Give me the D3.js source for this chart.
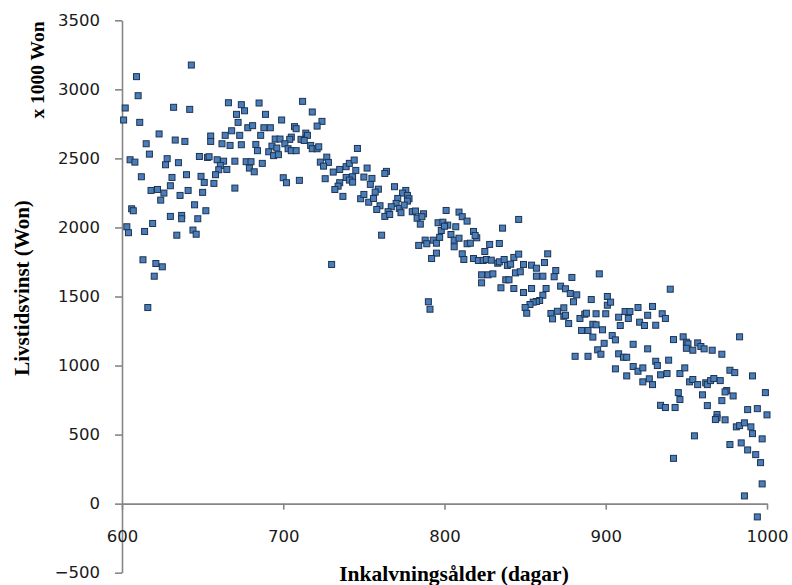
<!DOCTYPE html>
<html>
<head>
<meta charset="utf-8">
<script src="https://cdn.jsdelivr.net/npm/d3@7"></script>
<style>
body{
  margin:0;
  background:#fff;
}
.tick text{
  font-family: "DejaVu Sans", Verdana, sans-serif;
  font-size:16.5px;
  fill:#1a1a1a;
}
.axis path,
.axis line{
  stroke:#868686;
  stroke-width:1.6px;
}
.title{
  font-family: "Liberation Serif", "Times New Roman", serif;
  font-weight:bold;
  fill:#000;
}
.dot{
  fill:#4a7ebb;
  stroke:#1f3350;
  stroke-width:1px;
}
</style>
</head>
<body>
<div id="chart"></div>
<script>
// inkalvningsalder (dagar) and livstidsvinst (x 1000 won)
var ageDays = [
  643,609,610,602,601,632,642,611,623,615,633,639,617,605,608,628,627,635,648,653,654,
  612,631,640,649,651,657,630,618,622,626,624,636,641,650,645,606,607,630,637,637,647,
  652,619,603,604,614,634,644,646,613,621,625,620,616,666,674,671,672,668,664,673,655,
  655,662,667,674,659,663,661,660,658,665,670,670,
  712,685,676,689,718,699,724,721,678,681,688,692,707,708,686,714,715,705,704,695,698,
  711,713,701,683,684,693,696,691,694,697,703,705,708,717,718,721,722,746,677,680,679,
  682,687,700,702,710,723,727,728,725,726,731,735,739,741,744,745,743,739,741,743,735,
  734,732,737,748,750,730,750,
  752,764,763,755,754,769,759,757,776,774,777,778,777,771,770,767,765,772,773,775,753,
  756,760,758,763,766,780,782,783,787,785,786,761,801,809,811,814,796,799,802,798,800,
  807,804,806,809,806,788,789,784,793,795,797,795,792,818,820,819,814,816,825,811,812,
  818,821,824,826,823,823,790,791,
  846,836,828,834,829,833,834,837,839,841,843,846,864,862,849,854,857,827,830,844,847,
  838,840,857,861,869,868,879,896,835,843,849,854,863,861,859,857,855,853,850,851,872,
  875,878,882,880,891,874,870,866,867,874,875,877,884,887,888,894,900,901,901,903,892,
  894,898,899,885,889,892,895,897,881,889,
  912,915,914,920,929,926,931,935,937,908,909,921,924,904,906,917,926,942,948,950,951,
  950,954,957,959,961,966,972,983,908,911,913,939,931,932,906,917,920,923,913,934,938,
  923,927,929,946,949,952,954,957,962,963,965,967,971,977,980,991,999,945,946,960,975,
  974,979,972,934,937,943,963,969,969,968,974,988,994,1000,981,983,986,990,991,997,977,
  984,988,993,996,955,942,997,986,994,940
];
var lifetimeGain = [
  3176,3092,2954,2865,2778,2870,2855,2761,2677,2606,2633,2623,2531,2490,2473,2498,2454,2469,2514,2507,2512,
  2367,2362,2382,2370,2326,2319,2302,2268,2275,2249,2198,2232,2268,2254,2164,2135,2121,2080,2087,2063,2063,
  2121,2029,2005,1962,1971,1944,1981,1951,1766,1739,1715,1647,1420,2903,2889,2819,2761,2700,2667,2667,2662,
  2623,2606,2594,2599,2490,2480,2449,2418,2382,2420,2480,2285,
  2913,2901,2845,2819,2836,2778,2768,2734,2722,2737,2722,2722,2730,2715,2667,2683,2667,2654,2638,2640,2640,
  2638,2630,2606,2601,2556,2589,2575,2548,2520,2527,2570,2556,2556,2594,2570,2570,2584,2572,2476,2476,2430,
  2403,2464,2360,2324,2341,2473,2509,2471,2444,2353,2401,2420,2440,2464,2488,2413,2367,2362,2343,2328,2324,
  2299,2275,2225,2208,2239,1732,2365,
  2430,2406,2391,2355,2312,2295,2277,2256,2268,2249,2232,2208,2191,2210,2174,2150,2114,2138,2107,2162,2183,
  2210,2157,2130,2080,2094,2114,2119,2067,2099,2024,2078,1944,2123,2111,2078,2046,2034,2038,2017,1978,2009,
  2005,1949,1908,1922,1860,1908,1882,1870,1908,1886,1928,1814,1775,1971,1925,1942,1882,1886,1826,1809,1768,
  1775,1761,1761,1768,1657,1599,1462,1408,
  2058,1995,1877,1884,1763,1741,1751,1768,1725,1734,1783,1807,1809,1746,1732,1727,1705,1657,1664,1671,1679,
  1621,1621,1647,1647,1688,1643,1638,1664,1563,1558,1529,1558,1558,1509,1471,1464,1459,1442,1420,1379,1575,
  1556,1522,1512,1462,1478,1418,1393,1377,1338,1357,1364,1304,1341,1372,1379,1375,1375,1500,1437,1459,1299,
  1295,1259,1161,1254,1254,1206,1114,1082,1067,1067,
  1391,1391,1341,1420,1428,1364,1292,1375,1341,1350,1290,1314,1290,1217,1186,1154,1121,1188,1208,1169,1157,
  1125,1111,1164,1138,1121,1111,1082,1208,1085,1060,1060,1039,1031,1000,976,993,959,983,925,933,942,
  882,904,862,942,983,882,899,862,875,862,891,906,891,966,949,925,804,804,754,788,819,
  809,780,746,712,696,696,710,645,621,609,607,681,688,643,556,565,585,556,507,469,428,
  440,389,355,297,491,328,143,56,-96,1553
];

var xTicks = [600,700,800,900,1000];
var yTicks = [-500,0,500,1000,1500,2000,2500,3000,3500];

var width = 792, height = 585;

var svg = d3.select("#chart").append("svg")
    .attr("width", width)
    .attr("height", height);

var x = d3.scaleLinear().domain([600,1000]).range([122,767]);
var y = d3.scaleLinear().domain([-500,3500]).range([572.7,20.3]);

// y axis on the left edge of the plot
svg.append("g")
    .attr("class","axis")
    .attr("transform","translate(" + x(600) + ",0)")
    .call(d3.axisLeft(y).tickValues(yTicks).tickSizeInner(7).tickSizeOuter(0).tickPadding(15).tickFormat(d3.format("d")));

// x axis crosses at zero, labels hang below
var xAxis = svg.append("g")
    .attr("class","axis")
    .attr("transform","translate(0," + y(0) + ")")
    .call(d3.axisBottom(x).tickValues(xTicks).tickSizeInner(6).tickSizeOuter(0).tickPadding(21).tickFormat(d3.format("d")));
xAxis.selectAll(".tick line").attr("y1",0);

var pts = ageDays.map(function(d,i){ return [d, lifetimeGain[i]]; });

svg.append("g").selectAll("rect")
    .data(pts)
  .enter().append("rect")
    .attr("class","dot")
    .attr("x", function(d){ return x(d[0]) - 3; })
    .attr("y", function(d){ return y(d[1]) - 3; })
    .attr("width",6)
    .attr("height",6);

// axis titles
svg.append("text")
    .attr("class","title")
    .attr("transform","translate(29,288) rotate(-90)")
    .attr("text-anchor","middle")
    .style("font-size","21px")
    .text("Livstidsvinst (Won)");

svg.append("text")
    .attr("class","title")
    .attr("transform","translate(44,70) rotate(-90)")
    .attr("text-anchor","middle")
    .style("font-size","19.5px")
    .text("x 1000 Won");

svg.append("text")
    .attr("class","title")
    .attr("x",454)
    .attr("y",581)
    .attr("text-anchor","middle")
    .style("font-size","21.5px")
    .text("Inkalvningsålder (dagar)");
</script>
</body>
</html>
